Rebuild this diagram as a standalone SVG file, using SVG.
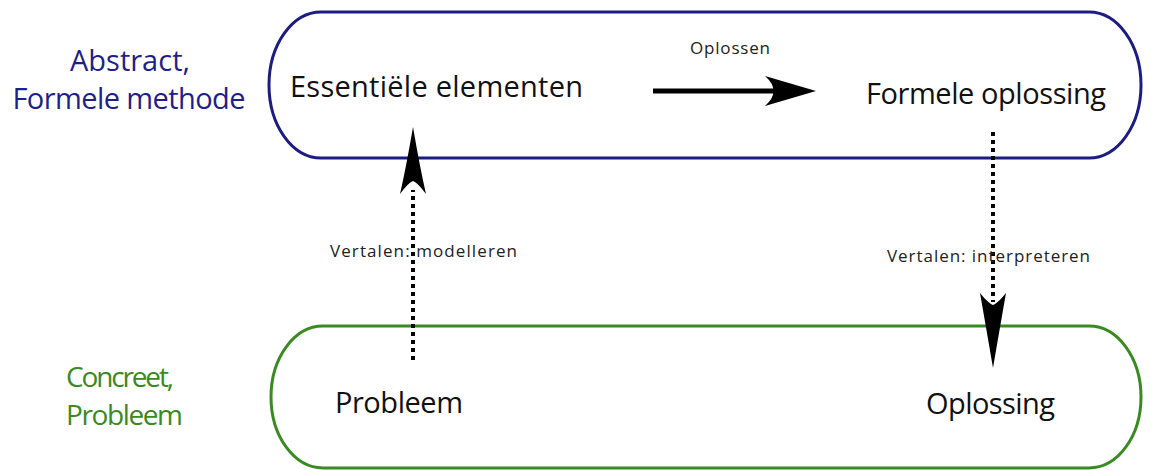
<svg xmlns="http://www.w3.org/2000/svg" width="1151" height="470" viewBox="0 0 1151 470">
  <style>
    .big { font-family: "Open Sans", "Liberation Sans", sans-serif; font-size: 29px; fill: #111; }
    .small { font-family: "Open Sans", "Liberation Sans", sans-serif; font-size: 17px; fill: #222; }
    .side-blue { font-family: "Open Sans", "Liberation Sans", sans-serif; font-size: 29px; fill: #1f1f8a; text-anchor: middle; }
    .side-green { font-family: "Open Sans", "Liberation Sans", sans-serif; font-size: 28px; fill: #3a8a22; }
    .dotted { stroke: #000; stroke-width: 4; stroke-dasharray: 4 4; fill: none; }
  </style>
  <rect width="1151" height="470" fill="#fff"/>

  <g id="label-abstract">
    <text class="side-blue" x="130" y="71">Abstract,</text>
    <text class="side-blue" x="129" y="109" textLength="233">Formele methode</text>
  </g>
  <g id="label-concreet">
    <text class="side-green" x="66" y="387" textLength="108">Concreet,</text>
    <text class="side-green" x="66" y="425" textLength="117">Probleem</text>
  </g>

  <g id="abstract-box">
    <rect x="269" y="12" width="872" height="146" rx="52" ry="73" fill="none" stroke="#1c1c84" stroke-width="3"/>
  </g>
  <g id="concreet-box">
    <rect x="271" y="326" width="870" height="142" rx="52" ry="71" fill="none" stroke="#3a8a22" stroke-width="3"/>
  </g>

  <g id="node-essentiele">
    <text class="big" x="290" y="97" textLength="293">Essentiële elementen</text>
  </g>
  <g id="node-formele">
    <text class="big" x="866" y="104" textLength="240">Formele oplossing</text>
  </g>
  <g id="node-probleem">
    <text class="big" x="335" y="413" textLength="128">Probleem</text>
  </g>
  <g id="node-oplossing">
    <text class="big" x="926" y="414" textLength="129">Oplossing</text>
  </g>

  <g id="connectors">
    <line x1="653" y1="91" x2="775" y2="91" stroke="#000" stroke-width="5"/>
    <path d="M816,91 L765,76 Q782,91 765,106 Z" fill="#000"/>
    <text class="small" x="690" y="54" textLength="80">Oplossen</text>

    <line class="dotted" x1="413" y1="360" x2="413" y2="190"/>
    <path d="M413,127 Q406,168 400,194 Q408,183 413,181 Q418,183 426,194 Q420,168 413,127 Z" fill="#000"/>
    <text class="small" x="330" y="257" textLength="187">Vertalen: modelleren</text>

    <line class="dotted" x1="993" y1="132" x2="993" y2="302"/>
    <path d="M993,368 Q986,327 980,293 Q988,303 993,305 Q998,303 1006,293 Q1000,327 993,368 Z" fill="#000"/>
    <text class="small" x="887" y="262" textLength="203">Vertalen: interpreteren</text>
  </g>
</svg>
